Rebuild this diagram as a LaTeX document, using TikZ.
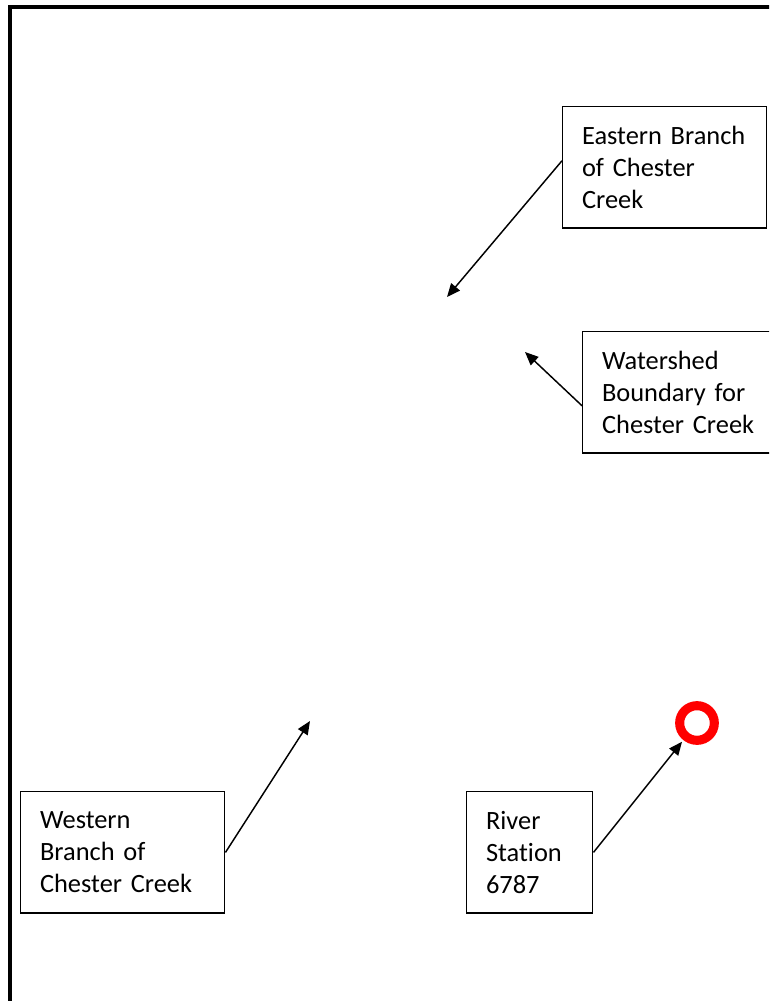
\documentclass[tikz,border=0pt]{standalone}
\usepackage{fontspec}
\setmainfont{Carlito}[Ligatures={NoCommon,NoContextual}]
\usepackage{xcolor}
\usepackage{tikz}
\usetikzlibrary{arrows.meta,calc,positioning}

\begin{document}
\begin{tikzpicture}[
  x=0.75pt, y=-0.75pt,
  font=\fontsize{19.8}{24}\selectfont,
  >={Triangle[length=10pt, width=8.5pt]},
  label box/.style={draw=black, line width=1.1pt, anchor=north west,
    align=left, inner xsep=14.5pt, inner ysep=0pt, minimum height=91pt},
  arrow/.style={->, line width=1.1pt, draw=black},
  station/.style={circle, draw=red, line width=6.8pt, minimum size=26pt,
    inner sep=0pt, outer sep=5pt}
]
  \useasboundingbox (0,0) rectangle (769,1001);
  \clip (0,0) rectangle (769,1001);

  % map frame
  \draw[line width=2.3pt] (10,1020) -- (10,7) -- (790,7);

  \node[label box, text width=124pt] (eastern) at (562,106)
    {Eastern Branch\\of Chester\\Creek};
  \node[label box, text width=140pt] (watershed) at (582,331)
    {Watershed\\Boundary for\\Chester Creek};
  \node[label box, text width=124pt] (western) at (20,791)
    {Western\\Branch of\\Chester Creek};
  \node[label box, text width=65.5pt] (river) at (466,791)
    {River\\Station\\6787};
  \node[station] (gauge) at (697,723) {};

  \coordinate (east tip) at (447,297);
  \coordinate (shed tip) at (525,352);
  \coordinate (west tip) at (310,721);

  \draw[arrow] ([yshift=5pt]eastern.west) -- (east tip);
  \draw[arrow] ([yshift=-10pt]watershed.west) -- (shed tip);
  \draw[arrow] (western.east) -- (west tip);
  \draw[arrow] (river.east) -- (gauge);
\end{tikzpicture}
\end{document}
